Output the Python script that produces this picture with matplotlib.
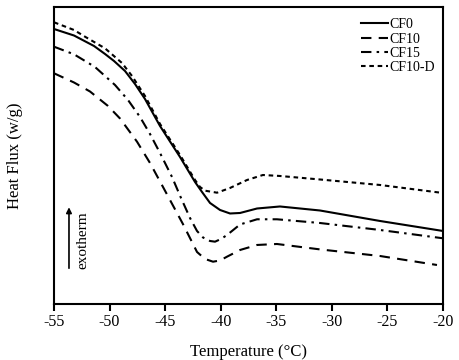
import matplotlib.pyplot as plt
import numpy as np

plt.rcParams['font.family'] = ['Liberation Serif', 'DejaVu Serif']

# temperature (degC) and heat flux (arbitrary units)
t_cf0 = [-55, -53.2, -51.4, -50.41, -49.6, -48.61, -47.71, -46.81, -45.46, -43.66, -42.31, -41.68, -40.96, -40.06, -39.16, -38.26, -36.73, -34.67, -31.07, -25.67, -20]
hf_cf0 = [92.59, 90.40, 86.87, 84.18, 81.82, 78.45, 74.07, 69.02, 59.93, 49.49, 41.08, 37.71, 34.01, 31.65, 30.47, 30.64, 32.15, 32.83, 31.48, 27.95, 24.58]

t_cf10 = [-55, -53.2, -51.76, -50.14, -49.06, -47.53, -46.36, -45.19, -43.4, -42.13, -41.41, -40.69, -40.06, -39.43, -38.26, -36.73, -34.94, -31.07, -25.67, -20.54]
hf_cf10 = [77.68, 74.58, 71.55, 66.67, 62.46, 54.65, 47.47, 39.39, 26.94, 17.51, 15.15, 14.24, 14.65, 15.93, 18.18, 19.87, 20.20, 18.38, 16.16, 13.13]

t_cf15 = [-55, -53.2, -51.31, -49.51, -48.34, -47.26, -46.36, -45.46, -44.38, -43.57, -42.76, -42.13, -41.59, -40.96, -40.51, -39.97, -39.43, -38.26, -36.73, -34.94, -31.07, -25.67, -20]
hf_cf15 = [86.63, 84.07, 79.80, 73.74, 68.69, 62.96, 57.24, 50.84, 42.76, 35.69, 28.96, 24.58, 22.39, 21.21, 20.98, 21.89, 23.23, 26.77, 28.52, 28.52, 27.27, 24.92, 22.12]

t_cf10d = [-55, -53.2, -52.21, -50.41, -48.88, -47.98, -46.81, -45.46, -43.66, -42.31, -41.86, -41.41, -40.33, -39.16, -37.63, -36.2, -34.67, -31.07, -25.67, -20]
hf_cf10d = [94.85, 92.26, 90.00, 86.09, 81.14, 76.77, 70.03, 60.61, 50.17, 41.75, 39.39, 38.15, 37.47, 39.06, 41.75, 43.43, 43.10, 41.92, 40.07, 37.37]

xticks = [-55, -50, -45, -40, -35, -30, -25, -20]

fig = plt.figure(figsize=(4.59, 3.6), dpi=100)
ax = fig.add_axes([0.1176, 0.1556, 0.8475, 0.825])

lw = 1.5
ax.plot(t_cf0, hf_cf0, color='black', lw=lw, label='CF0')
ax.plot(t_cf10, hf_cf10, color='black', lw=lw, dashes=(5, 3.5), label='CF10')
ax.plot(t_cf15, hf_cf15, color='black', lw=lw, dashes=(5, 2.5, 1.2, 2.5), label='CF15')
ax.plot(t_cf10d, hf_cf10d, color='black', lw=lw, dashes=(2.2, 1.8), label='CF10-D')

ax.annotate('', xy=(-53.65, 33.5), xytext=(-53.65, 11.1),
            arrowprops=dict(arrowstyle='-|>', color='black', lw=1.2, mutation_scale=8))
ax.text(-52.4, 21.5, 'exotherm', rotation=90, ha='center', va='center', fontsize=11)

ax.set_xlim(-55, -20)
ax.set_ylim(0, 100)
ax.set_xticks(xticks)
ax.set_xticklabels([str(v) for v in xticks], fontsize=11.5)
ax.set_yticks([])
ax.tick_params(axis='x', direction='out', length=5, width=1.5, pad=2)
for s in ax.spines.values():
    s.set_linewidth(1.5)

ax.set_xlabel('Temperature (°C)', fontsize=12, labelpad=10)
ax.set_ylabel('Heat Flux (w/g)', fontsize=12, labelpad=22)

ax.legend(loc='upper right', frameon=False, fontsize=10, handlelength=2.0,
          handletextpad=0.1, labelspacing=0.1, borderaxespad=0.3,
          bbox_to_anchor=(1.005, 0.995))

plt.savefig('out.png', dpi=100)
